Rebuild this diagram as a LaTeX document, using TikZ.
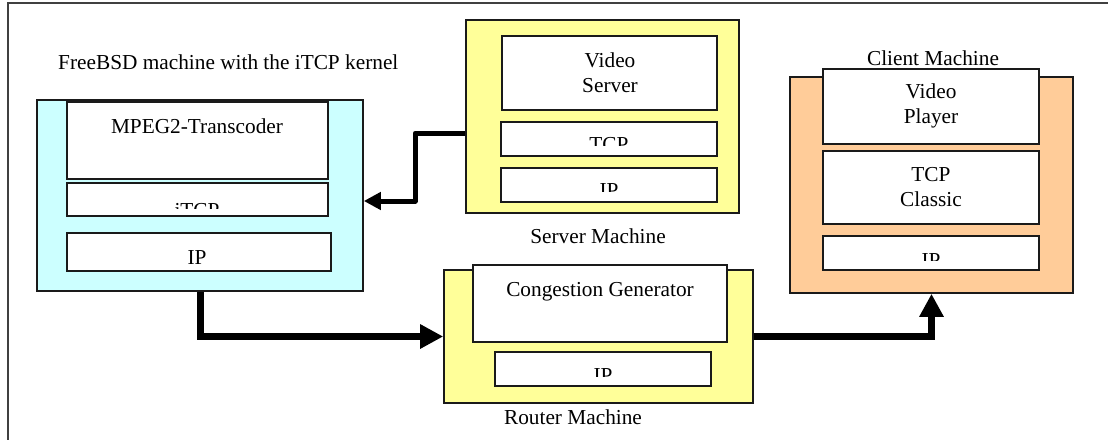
\documentclass[tikz,border=0pt]{standalone}
\usepackage{fontspec}
\setmainfont{Liberation Serif}
\usetikzlibrary{arrows.meta}
\definecolor{cyanfill}{HTML}{CCFFFF}
\definecolor{yelfill}{HTML}{FFFF99}
\definecolor{orafill}{HTML}{FFCC99}
\definecolor{edge}{HTML}{1A1A1A}
\tikzset{
  lbl/.style={font=\fontsize{21.3}{24.5}\selectfont, inner sep=0pt, align=center},
  layerbox/.style={draw=edge, fill=white, line width=1.6pt, inner sep=0pt},
  machine/.style={draw=edge, line width=1.6pt, inner sep=0pt},
  thinarrow/.style={line width=5pt, -{Triangle[length=17pt,width=17pt]}, line join=round},
  thickarrow/.style={line width=7pt, -{Triangle[length=23pt,width=23pt]}},
}
\newcommand{\boxat}[6]{% name, style, x1, y1, x2, y2
  \node[#2, minimum width={(#5)-(#3)}, minimum height={(#6)-(#4)}] (#1) at ({((#3)+(#5))/2},{((#4)+(#6))/2}) {};}
\begin{document}
\begin{tikzpicture}[x=1pt,y=-1pt]
\useasboundingbox (0,0) rectangle (1108,439);
% outer frame
\draw[line width=1.3pt, draw=black!75] (8,460) -- (8,3) -- (1130,3);

% FreeBSD machine
\node[lbl, anchor=base west] (freelbl) at (58,69) {FreeBSD machine with the iTCP kernel};
\boxat{cyan}{machine, fill=cyanfill}{37}{100}{363}{291}
\boxat{mpeg}{layerbox}{67}{102}{328}{179}
\boxat{itcp}{layerbox}{67}{183}{328}{216}
\boxat{cip}{layerbox}{67}{233}{331}{271}
\node[lbl, anchor=base] (mpeglbl) at (197,133) {MPEG2-Transcoder};
\begin{scope}
  \clip (67,183) rectangle (328,208);
  \node[lbl, anchor=base] (itcplbl) at (197,217) {iTCP};
\end{scope}
\begin{scope}
  \clip (67,233) rectangle (331,263);
  \node[lbl, anchor=base] (ciplbl) at (197,264) {IP};
\end{scope}

% Server machine
\boxat{server}{machine, fill=yelfill}{466}{20}{739}{213}
\boxat{vserver}{layerbox}{502}{36}{717}{110}
\boxat{stcp}{layerbox}{501}{122}{717}{156}
\boxat{sip}{layerbox}{501}{168}{717}{202}
\node[lbl, anchor=base] (vserverlbl) at (610,92) {Video\\Server};
\begin{scope}
  \clip (501,122) rectangle (717,145);
  \node[lbl, anchor=base] (stcplbl) at (609,151) {TCP};
\end{scope}
\begin{scope}
  \clip (501,168) rectangle (717,191);
  \node[lbl, anchor=base] (siplbl) at (609,197) {IP};
\end{scope}
\node[lbl, anchor=base] (serverlbl) at (598,243) {Server Machine};

% Client machine
\boxat{client}{machine, fill=orafill}{790}{77}{1073}{293}
\boxat{vplayer}{layerbox}{823}{69}{1039}{144}
\boxat{ctcp}{layerbox}{823}{151}{1039}{224}
\boxat{cip2}{layerbox}{823}{236}{1039}{270}
\node[lbl, anchor=base] (clientlbl) at (933,65) {Client Machine};
\node[lbl, anchor=base] (vplayerlbl) at (931,123) {Video\\Player};
\node[lbl, anchor=base] (ctcplbl) at (931,206) {TCP\\Classic};
\begin{scope}
  \clip (823,236) rectangle (1039,260);
  \node[lbl, anchor=base] (cip2lbl) at (931,267) {IP};
\end{scope}

% Router machine
\boxat{router}{machine, fill=yelfill}{444}{270}{753}{403}
\boxat{cong}{layerbox}{473}{265}{727}{342}
\boxat{rip}{layerbox}{495}{352}{711}{386}
\node[lbl, anchor=base] (conglbl) at (600,296) {Congestion Generator};
\begin{scope}
  \clip (495,352) rectangle (711,376);
  \node[lbl, anchor=base] (riplbl) at (603,382) {IP};
\end{scope}
\node[lbl, anchor=base] (routerlbl) at (573,424) {Router Machine};

% connectors
\draw[thinarrow] ([yshift=-16.5pt]server.west) -- ++(-50,0) |- ([yshift=-5.5pt]cyan.east);
\draw[thickarrow] (cyan.south) |- (router.west);
\draw[thickarrow] (router.east) -| (client.south);
\end{tikzpicture}
\end{document}
